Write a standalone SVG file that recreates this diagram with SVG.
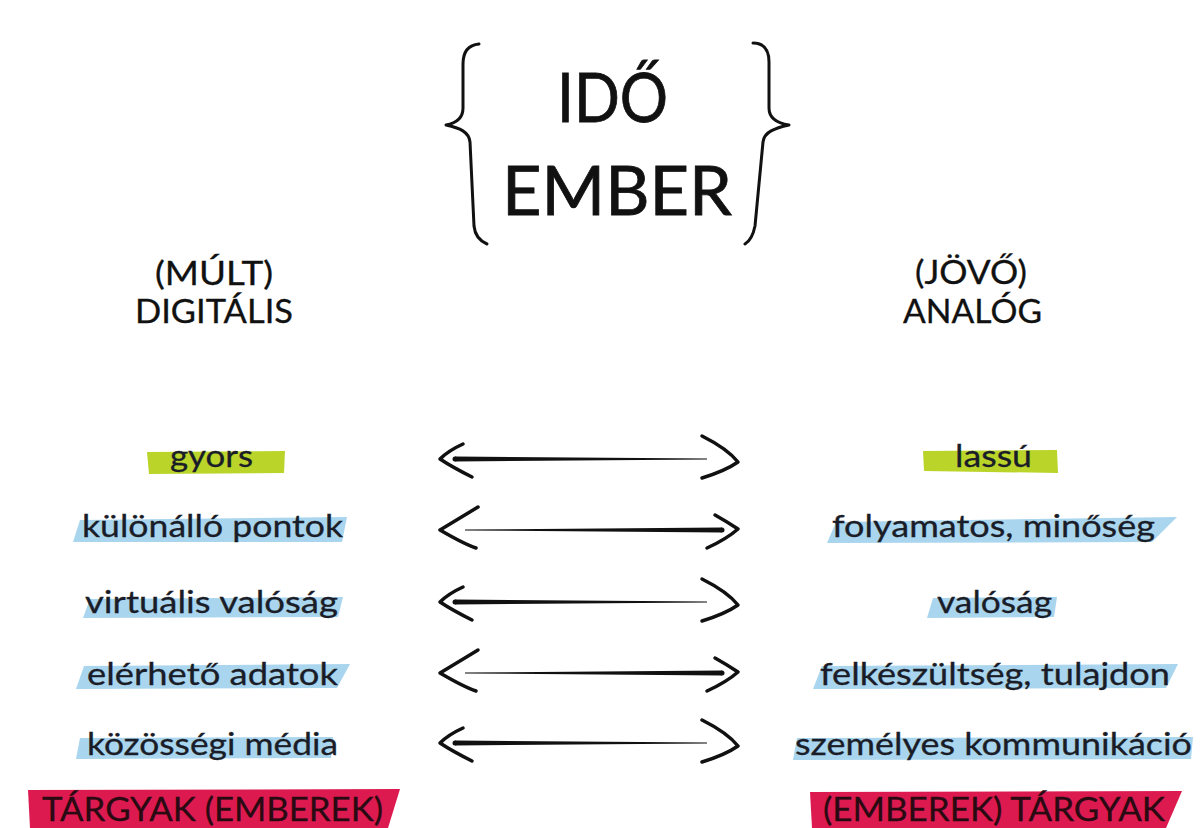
<svg xmlns="http://www.w3.org/2000/svg" xmlns:xlink="http://www.w3.org/1999/xlink" width="1200" height="828" viewBox="0 0 1200 828">
<style>
.t{font-family:Lato,"Open Sans","DejaVu Sans",sans-serif;fill:#1a1d28;stroke:#1a1d28;stroke-width:0.3}
.row{font-size:31px}
.cap{font-size:33px;fill:#2a0a12;stroke:#2a0a12}
.head{font-size:32px;fill:#111;stroke:#111}
.title{font-size:68px;fill:#111;stroke:#111;stroke-width:0.8}
.g{fill:#bad42a}
.b{fill:#a9d5ee}
.r{fill:#dd1a4f}
.ch{fill:none;stroke:#111;stroke-width:3.5;stroke-linecap:round;stroke-linejoin:round}
.br{fill:none;stroke:#111;stroke-width:3;stroke-linecap:round;stroke-linejoin:round}
</style>
<defs>
<g id="arrowA">
<path class="ch" d="M463,-15 C452,-10 444,-4 440,0 C449,6 460,12 472,18"/>
<path d="M455,-2.5 L707,-0.5 L707,0.5 L455,2.5 Z" fill="#111"/>
<circle cx="455" cy="0" r="2.5" fill="#111"/>
<path class="ch" d="M702,-23 C716,-16 730,-7 738,3 C728,10 715,15 702,19"/>
</g>
<g id="arrowB">
<path class="ch" d="M478,-23 C465,-15 450,-6 440,0 C452,7 464,14 476,18"/>
<path d="M465,-0.5 L722,-2.5 L722,2.5 L465,0.5 Z" fill="#111"/>
<circle cx="722" cy="0" r="2.5" fill="#111"/>
<path class="ch" d="M715,-15 C724,-10 732,-5 738,-1 C730,6 718,13 707,18"/>
</g>
</defs>
<rect width="1200" height="828" fill="#fff"/>

<g id="title">
<path class="br" d="M479,44 C468,45 463,52 463,64 L463,108 C463,118 457,123 446,125 C460,128 469,132 470,142 L474,226 C475,236 480,241 487,244"/>
<path class="br" d="M753,43 C764,43 769,50 769,62 L769,108 C769,118 776,123 789,125 C775,128 764,132 763,142 L755,226 C753,236 750,241 745,244"/>
<text class="t title" x="557" y="122" textLength="111" lengthAdjust="spacingAndGlyphs">IDŐ</text>
<text class="t title" x="502" y="215" textLength="230" lengthAdjust="spacingAndGlyphs">EMBER</text>
</g>

<g id="head-left">
<text class="t head" x="155" y="285" textLength="118" lengthAdjust="spacingAndGlyphs">(MÚLT)</text>
<text class="t head" x="135" y="323" textLength="158" lengthAdjust="spacingAndGlyphs">DIGITÁLIS</text>
</g>
<g id="head-right">
<text class="t head" x="915" y="284" textLength="112" lengthAdjust="spacingAndGlyphs">(JÖVŐ)</text>
<text class="t head" x="903" y="323" textLength="139" lengthAdjust="spacingAndGlyphs">ANALÓG</text>
</g>

<g id="l1"><polygon class="g" points="147,452 285,451 284,473 149,474"/><text class="t row" x="170" y="467" textLength="83" lengthAdjust="spacingAndGlyphs">gyors</text></g>
<g id="r1"><polygon class="g" points="923,451 1057,450 1058,473 924,471"/><text class="t row" x="955" y="467" textLength="77" lengthAdjust="spacingAndGlyphs">lassú</text></g>

<g id="l2"><polygon class="b" points="80,520 347,517 342,542 73,542"/><text class="t row" x="82" y="537" textLength="261" lengthAdjust="spacingAndGlyphs">különálló pontok</text></g>
<g id="r2"><polygon class="b" points="836,522 1177,517 1152,542 827,543"/><text class="t row" x="832" y="537" textLength="323" lengthAdjust="spacingAndGlyphs">folyamatos, minőség</text></g>

<g id="l3"><polygon class="b" points="90,599 343,597 338,617 83,618"/><text class="t row" x="85" y="613" textLength="253" lengthAdjust="spacingAndGlyphs">virtuális valóság</text></g>
<g id="r3"><polygon class="b" points="933,598 1057,597 1054,617 927,618"/><text class="t row" x="937" y="613" textLength="115" lengthAdjust="spacingAndGlyphs">valóság</text></g>

<g id="l4"><polygon class="b" points="84,666 350,664 337,688 76,689"/><text class="t row" x="87" y="685" textLength="251" lengthAdjust="spacingAndGlyphs">elérhető adatok</text></g>
<g id="r4"><polygon class="b" points="822,666 1178,664 1166,688 813,689"/><text class="t row" x="820" y="685" textLength="350" lengthAdjust="spacingAndGlyphs">felkészültség, tulajdon</text></g>

<g id="l5"><polygon class="b" points="80,738 333,737 331,758 76,759"/><text class="t row" x="87" y="755" textLength="251" lengthAdjust="spacingAndGlyphs">közösségi média</text></g>
<g id="r5"><polygon class="b" points="797,738 1193,737 1191,759 793,760"/><text class="t row" x="795" y="755" textLength="397" lengthAdjust="spacingAndGlyphs">személyes kommunikáció</text></g>

<g id="l6"><polygon class="r" points="28,790 400,789 388,828 30,828"/><text class="t cap" x="42" y="821" textLength="341" lengthAdjust="spacingAndGlyphs">TÁRGYAK (EMBEREK)</text></g>
<g id="r6"><polygon class="r" points="810,792 1182,791 1166,828 812,828"/><text class="t cap" x="823" y="821" textLength="342" lengthAdjust="spacingAndGlyphs">(EMBEREK) TÁRGYAK</text></g>

<g id="connectors">
<use xlink:href="#arrowA" href="#arrowA" transform="translate(0,459)"/>
<use xlink:href="#arrowB" href="#arrowB" transform="translate(0,530)"/>
<use xlink:href="#arrowA" href="#arrowA" transform="translate(0,602)"/>
<use xlink:href="#arrowB" href="#arrowB" transform="translate(0,673)"/>
<use xlink:href="#arrowA" href="#arrowA" transform="translate(0,743)"/>
</g>
</svg>
